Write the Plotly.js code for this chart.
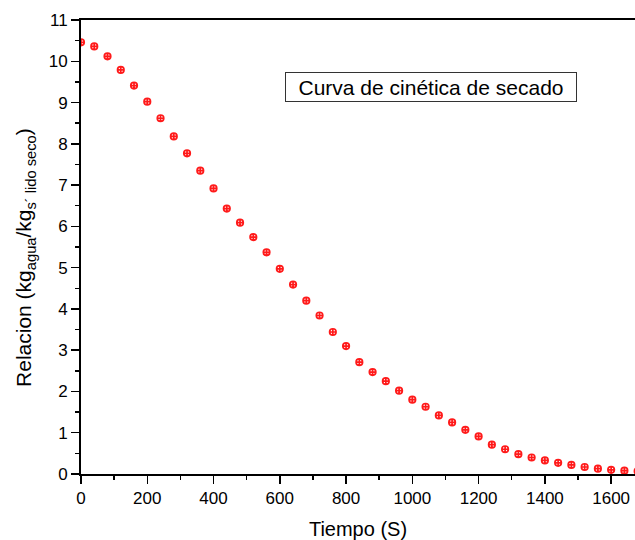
<!DOCTYPE html>
<html>
<head>
<meta charset="utf-8">
<script src="https://cdn.plot.ly/plotly-3.0.1.min.js"></script>
<style>html,body{margin:0;padding:0;background:#fff;}#chart{width:635px;height:540px;}</style>
</head>
<body>
<div id="chart"></div>
<script>
const tiempo = [0,40,80,120,160,200,240,280,320,360,400,440,480,520,560,600,640,680,720,760,800,840,880,920,960,1000,1040,1080,1120,1160,1200,1240,1280,1320,1360,1400,1440,1480,1520,1560,1600,1640,1680];
const relacion = [10.46,10.36,10.12,9.79,9.41,9.02,8.62,8.18,7.77,7.35,6.92,6.43,6.09,5.74,5.37,4.97,4.59,4.20,3.84,3.44,3.10,2.71,2.47,2.25,2.02,1.80,1.63,1.42,1.25,1.07,0.91,0.71,0.60,0.48,0.40,0.33,0.27,0.22,0.17,0.13,0.10,0.08,0.07];
const legendText = "Curva de cinética de secado";
const xTitle = "Tiempo (S)";
const yTitle = "Relacion (kg<sub>agua</sub>/kg<sub>s´ lido seco</sub>)";

const font = "Liberation Sans, Arial, sans-serif";

Plotly.newPlot('chart', [{
  x: tiempo, y: relacion, type: 'scatter', mode: 'markers',
  cliponaxis: true,
  marker: {symbol: 'circle-cross-open', size: 6.5, color: '#ff1a1a', line: {color: '#ff1a1a', width: 1.7}}
}], {
  width: 635, height: 540,
  margin: {l: 81, r: 0, t: 20, b: 66},
  paper_bgcolor: '#fff', plot_bgcolor: '#fff',
  showlegend: false,
  font: {family: font, color: '#000'},
  xaxis: {
    range: [0, 1672], showgrid: false, zeroline: false,
    showline: true, linecolor: '#000', linewidth: 2, mirror: true,
    ticks: 'outside', ticklen: 8, tickwidth: 1.5, tickcolor: '#000',
    tick0: 0, dtick: 200,
    minor: {ticks: 'outside', ticklen: 4, tickwidth: 1.5, tickcolor: '#000', dtick: 100},
    tickfont: {size: 17, family: font},
    title: {text: xTitle, font: {size: 20, family: font}, standoff: 16},
    automargin: false
  },
  yaxis: {
    range: [0, 11], showgrid: false, zeroline: false,
    showline: true, linecolor: '#000', linewidth: 2,
    ticks: 'outside', ticklen: 8, tickwidth: 1.5, tickcolor: '#000',
    tick0: 0, dtick: 1,
    minor: {ticks: 'outside', ticklen: 4, tickwidth: 1.5, tickcolor: '#000', dtick: 0.5},
    tickfont: {size: 17, family: font},
    automargin: false
  },
  annotations: [{
    text: legendText, xref: 'paper', yref: 'paper',
    x: 0.631, y: 0.852, xanchor: 'center', yanchor: 'middle',
    showarrow: false, font: {size: 21, family: font, color: '#000'},
    bordercolor: '#333', borderwidth: 1, borderpad: 0,
    width: 290, height: 28, bgcolor: '#fff'
  }, {
    text: yTitle, xref: 'paper', yref: 'paper',
    x: -0.101, y: 0.476, xanchor: 'center', yanchor: 'middle',
    textangle: -90, showarrow: false,
    font: {size: 21, family: font, color: '#000'}
  }]
}, {staticPlot: true, displayModeBar: false});
</script>
</body>
</html>
